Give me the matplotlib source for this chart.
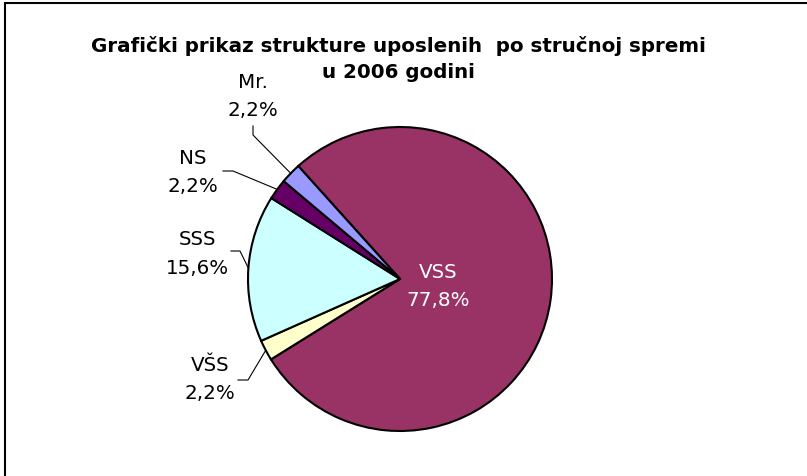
import numpy as np
import matplotlib
matplotlib.use("Agg")
import matplotlib.pyplot as plt
from matplotlib.patches import Rectangle

# data (clockwise from the top-left edge, as in the original chart)
categories = ["VSS", "VŠS", "SSS", "NS", "Mr."]
shares = [77.8, 2.2, 15.6, 2.2, 2.2]
colors = ["#993366", "#FFFFCC", "#CCFFFF", "#660066", "#9999FF"]
title_lines = ["Grafički prikaz strukture uposlenih  po stručnoj spremi",
               "u 2006 godini"]

W, H = 807, 477
cx, cy, rad = 400, H - 280, 152

# label centres and leader elbows in pixels (y measured from the top)
label_pos = {"VSS": (438, 287), "VŠS": (210, 380), "SSS": (197, 254),
             "NS": (193, 173), "Mr.": (253, 97)}
leaders = {"VŠS": [(238, 381), (248, 381)], "SSS": [(231, 252), (240, 252)],
           "NS": [(223, 172), (233, 172)], "Mr.": [(253, 127), (253, 136)]}

fig = plt.figure(figsize=(W / 100, H / 100), dpi=100)
ax = fig.add_axes([0, 0, 1, 1])

wedges, _ = ax.pie(shares, colors=colors, startangle=132, counterclock=False,
                   center=(cx, cy), radius=rad,
                   wedgeprops=dict(edgecolor="black", linewidth=1.5))

ax.set_xlim(0, W)
ax.set_ylim(0, H)
ax.set_aspect("equal")
ax.axis("off")

for w, name, val in zip(wedges, categories, shares):
    pct = f"{val:.1f}".replace(".", ",")
    lx, ly = label_pos[name]
    col = "white" if name == "VSS" else "black"
    ax.text(lx, H - ly, f"{name}\n{pct}%", ha="center", va="center",
            fontsize=14.3, color=col, linespacing=1.6)
    if name in leaders:
        mid = np.deg2rad((w.theta1 + w.theta2) / 2)
        px = cx + rad * np.cos(mid)
        py = cy + rad * np.sin(mid)
        pts = [(x, H - y) for x, y in leaders[name]] + [(px, py)]
        ax.plot([p[0] for p in pts], [p[1] for p in pts], color="black", lw=0.8)

for i, line in enumerate(title_lines):
    ax.text(398, H - 46 - 27 * i, line, ha="center", va="center",
            fontsize=14.3, fontweight="bold")

ax.add_patch(Rectangle((5, -20), 900, H - 3.5 + 20, fill=False,
                       edgecolor="black", linewidth=1.5, clip_on=False))

fig.savefig("out.png", dpi=100)
